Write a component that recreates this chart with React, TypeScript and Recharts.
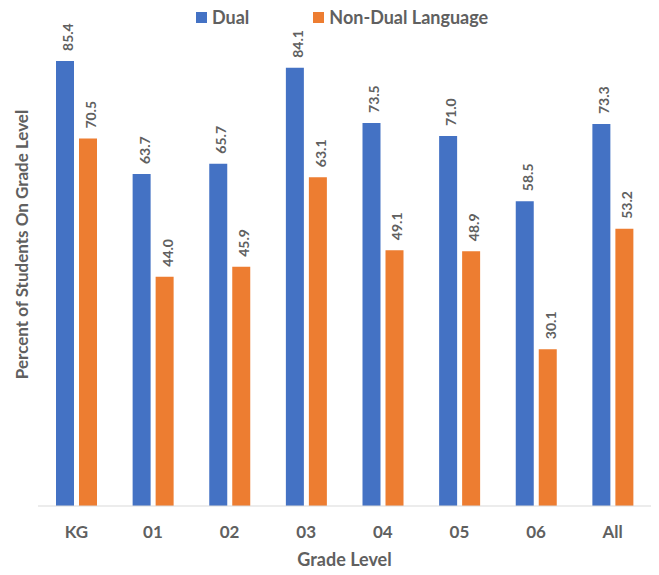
import { Bar, BarChart, LabelList, Legend, XAxis, YAxis } from 'recharts';

const grades = ['KG', '01', '02', '03', '04', '05', '06', 'All'];
const dual = [85.4, 63.7, 65.7, 84.1, 73.5, 71.0, 58.5, 73.3];
const nonDual = [70.5, 44.0, 45.9, 63.1, 49.1, 48.9, 30.1, 53.2];

const data = grades.map((grade, i) => ({ grade, dual: dual[i], nonDual: nonDual[i] }));

const FONT = 'Lato, "Open Sans", sans-serif';
const TEXT = '#606060';

const VerticalLabel = (props: any) => {
  const { x, y, width, value } = props;
  const cx = x + width / 2 + 8;
  const cy = y - 10;
  return (
    <text
      x={cx}
      y={cy}
      transform={`rotate(-90 ${cx} ${cy})`}
      textAnchor="start"
      fontSize={14}
      fontWeight={700}
      fill={TEXT}
      fontFamily={FONT}
    >
      {Number(value).toFixed(1)}
    </text>
  );
};

const YTitle = (props: any) => {
  const { viewBox } = props;
  const cx = 28;
  const cy = viewBox ? viewBox.y + viewBox.height / 2 - 27 : 240;
  return (
    <text
      x={cx}
      y={cy}
      transform={`rotate(-90 ${cx} ${cy})`}
      textAnchor="middle"
      fontSize={17}
      fontWeight={700}
      fill={TEXT}
      fontFamily={FONT}
    >
      Percent of Students On Grade Level
    </text>
  );
};

const LegendBox = (props: any) => {
  const { payload } = props;
  return (
    <div style={{ display: 'flex', alignItems: 'center', gap: 64, fontFamily: FONT, fontSize: 18, fontWeight: 700, color: TEXT }}>
      {(payload || []).map((item: any) => (
        <div key={item.value} style={{ display: 'flex', alignItems: 'center', gap: 5 }}>
          <span style={{ display: 'inline-block', width: 11, height: 11, background: item.color }} />
          <span>{item.value}</span>
        </div>
      ))}
    </div>
  );
};

const App = () => {
  return (
    <div style={{ margin: -8, width: 659, height: 575, background: '#fff', position: 'relative' }}>
      <BarChart
        width={659}
        height={575}
        data={data}
        margin={{ top: 13, right: 8, bottom: 0, left: 0 }}
        barGap={5}
        barCategoryGap={0}
      >
        <XAxis
          dataKey="grade"
          height={69}
          tickLine={false}
          axisLine={{ stroke: '#d9d9d9' }}
          tick={{ fill: TEXT, fontSize: 17, fontWeight: 700, fontFamily: FONT }}
          tickMargin={14}
          label={{
            value: 'Grade Level',
            position: 'insideBottom',
            offset: 9,
            fill: TEXT,
            fontSize: 18,
            fontWeight: 700,
            fontFamily: FONT,
          }}
        />
        <YAxis
          width={38}
          domain={[0, 90]}
          tick={false}
          tickLine={false}
          axisLine={false}
          label={<YTitle />}
        />
        <Legend
          verticalAlign="top"
          height={24}
          content={<LegendBox />}
          wrapperStyle={{ top: 6, left: 196, width: 'auto' }}
        />
        <Bar dataKey="dual" name="Dual" fill="#4472C4" barSize={18} isAnimationActive={false}>
          <LabelList dataKey="dual" content={VerticalLabel} />
        </Bar>
        <Bar dataKey="nonDual" name="Non-Dual Language" fill="#ED7D31" barSize={18} isAnimationActive={false}>
          <LabelList dataKey="nonDual" content={VerticalLabel} />
        </Bar>
      </BarChart>
    </div>
  );
};

export default App;
